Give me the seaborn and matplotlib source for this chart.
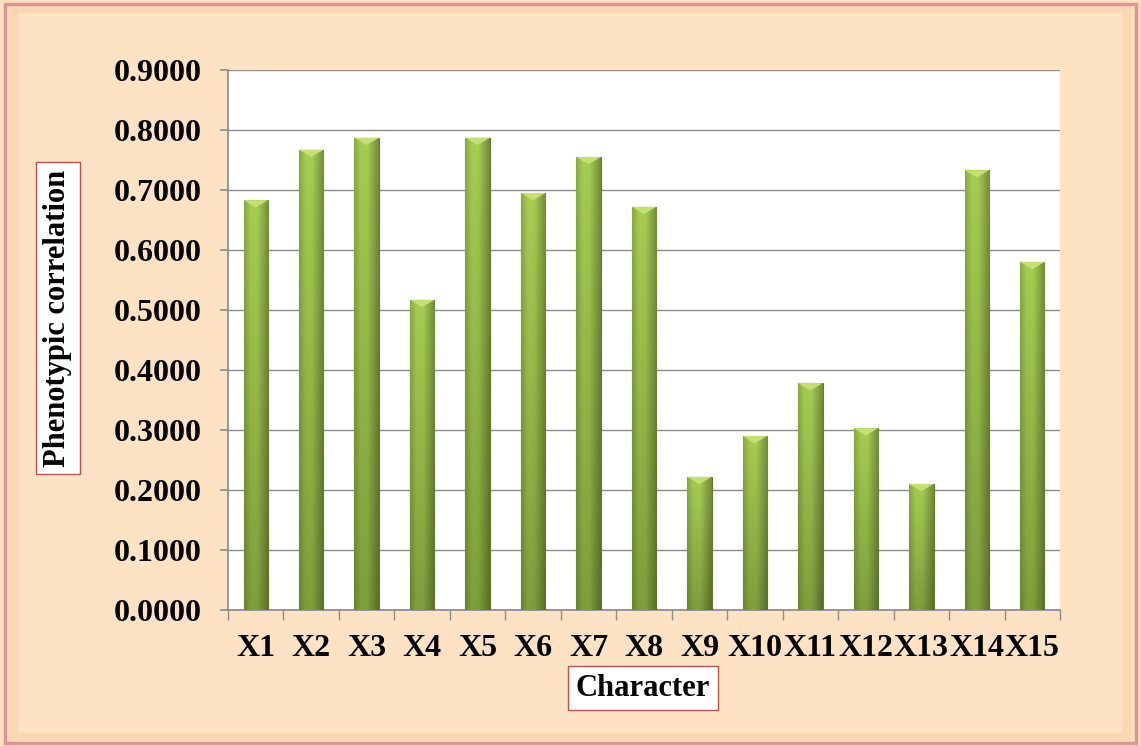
import numpy as np
import pandas as pd
import matplotlib
matplotlib.use("Agg")
import matplotlib.pyplot as plt
import seaborn as sns
from matplotlib.patches import Rectangle

characters = ["X1", "X2", "X3", "X4", "X5", "X6", "X7", "X8",
              "X9", "X10", "X11", "X12", "X13", "X14", "X15"]
phen_corr = [0.683, 0.767, 0.787, 0.517, 0.787, 0.695, 0.755, 0.672,
             0.222, 0.290, 0.378, 0.303, 0.210, 0.733, 0.580]
y_ticks = [0.0, 0.1, 0.2, 0.3, 0.4, 0.5, 0.6, 0.7, 0.8, 0.9]

df = pd.DataFrame({"Character": characters, "Phenotypic correlation": phen_corr})

sns.set_theme(style="white")
plt.rcParams["font.family"] = ["Liberation Serif", "DejaVu Serif"]
plt.rcParams["text.color"] = "black"

fig = plt.figure(figsize=(11.41, 7.46), dpi=100)
fig.patch.set_facecolor("#FDE0C0")

# bevelled frame
inner = Rectangle((0.012, 0.012), 0.976, 0.976, transform=fig.transFigure,
                  facecolor="#FEE2C4", edgecolor="#FAD6B2", lw=6, zorder=-2)
fig.patches.append(inner)
frame = Rectangle((0.004, 0.004), 0.992, 0.990, transform=fig.transFigure,
                  facecolor="none", edgecolor="#D99694", lw=2.5, zorder=-1)
fig.patches.append(frame)

ax = fig.add_axes([228 / 1141, 1 - 610 / 746, (1060 - 228) / 1141, (610 - 70) / 746])
ax.set_zorder(1)
ax.set_facecolor("white")

sns.barplot(data=df, x="Character", y="Phenotypic correlation", ax=ax,
            color="#8DB33F", width=0.44, edgecolor="#5F7D25", linewidth=0.8,
            saturation=1, zorder=3)

# shading: lighter in the middle/left, darker toward the bottom
top = np.array(matplotlib.colors.to_rgb("#A6CC52"))
bot = np.array(matplotlib.colors.to_rgb("#7E9E3C"))
hx = np.linspace(0, 1, 40)
side = 1 - 0.3 * np.clip(np.abs(hx - 0.4) * 2.2 - 0.3, 0, 1)
for p in list(ax.patches):
    x0, w, h = p.get_x(), p.get_width(), p.get_height()
    frac = np.linspace(1, 0, 80)[:, None]
    rgb = bot[None, None, :] + (top - bot)[None, None, :] * frac[:, :, None]
    rgb = rgb * side[None, :, None]
    im = ax.imshow(rgb, extent=(x0, x0 + w, 0, h), aspect="auto", zorder=4)
    im.set_clip_path(p)
    cap = plt.Polygon([(x0, h), (x0 + w, h), (x0 + w / 2, h - 0.012)],
                      closed=True, facecolor="#C4E06F", edgecolor="none", zorder=5)
    ax.add_patch(cap)

ax.set_ylim(0, 0.9)
ax.set_xlim(-0.5, len(characters) - 0.5)
ax.set_yticks(y_ticks)
ax.set_yticklabels([f"{v:.4f}" for v in y_ticks])
ax.yaxis.grid(True, color="#8C8C8C", lw=1)
ax.set_axisbelow(True)
for s in ["top", "right"]:
    ax.spines[s].set_visible(False)
ax.spines["left"].set_color("#8C8C8C")
ax.spines["bottom"].set_color("#8C8C8C")

ax.tick_params(axis="y", length=6, color="#8C8C8C", labelcolor="black",
               labelsize=23, pad=13, left=True)
ax.tick_params(axis="x", length=0, labelsize=23, labelcolor="black", pad=17)
for t in ax.get_yticklabels() + ax.get_xticklabels():
    t.set_fontweight("bold")
# category boundary tick marks on the x axis
ax.set_xticks(np.arange(-0.5, len(characters)), minor=True)
ax.tick_params(axis="x", which="minor", length=7, color="#8C8C8C", bottom=True)

ax.set_xlabel("")
ax.set_ylabel("")
box = dict(boxstyle="square,pad=0.25", facecolor="white", edgecolor="#C0504D", lw=1)
fig.text(643 / 1141, 1 - 688 / 746, "Character", ha="center", va="center",
         fontsize=22, fontweight="bold", bbox=box)
fig.text(58 / 1141, 1 - 318 / 746, "Phenotypic correlation", ha="center", va="center",
         rotation=90, fontsize=22, fontweight="bold", bbox=box)

plt.savefig("out.png", dpi=100, facecolor=fig.get_facecolor())
plt.close()
